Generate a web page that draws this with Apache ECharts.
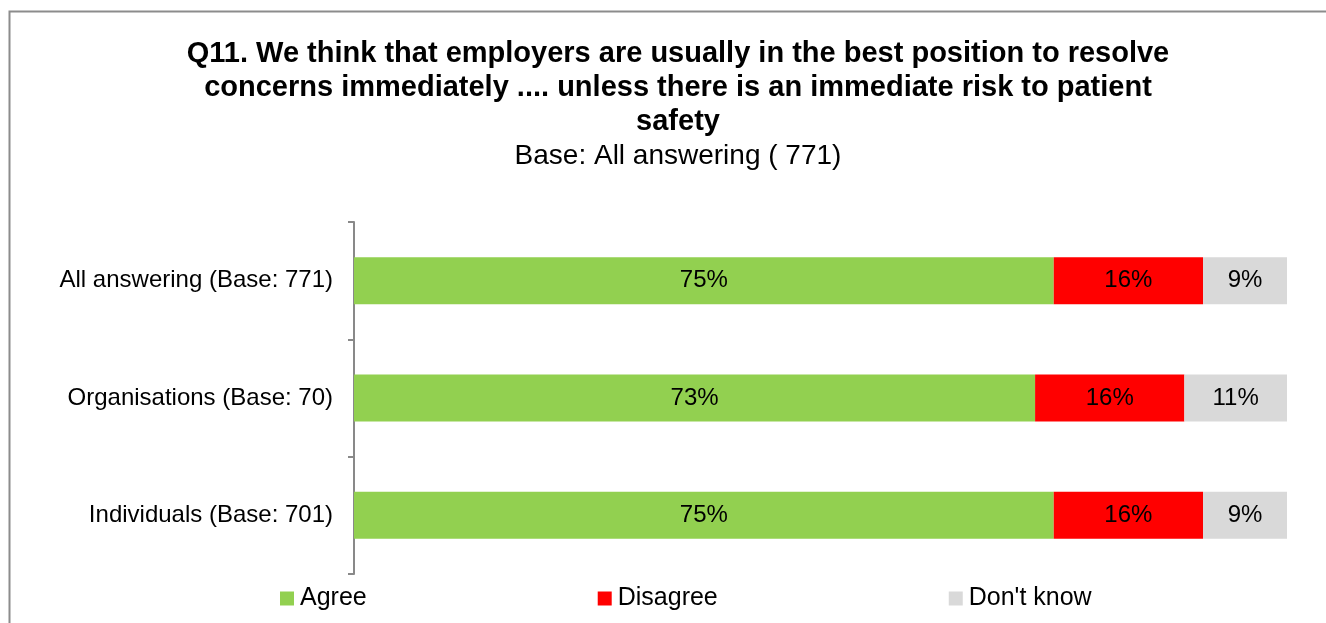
<!DOCTYPE html>
<html>
<head>
<meta charset="utf-8">
<title>Q11 responses</title>
<script src="https://cdn.jsdelivr.net/npm/echarts@6/dist/echarts.min.js"></script>
<style>
  html, body { margin: 0; padding: 0; background: #ffffff; }
  #chart { width: 1326px; height: 623px; }
</style>
</head>
<body>
<div id="chart"></div>
<script>
// Respondent groups (top to bottom)
const categories = [
  'All answering (Base: 771)',
  'Organisations (Base: 70)',
  'Individuals (Base: 701)'
];

// Share of each response, in percent
const agree = [75, 73, 75];
const disagree = [16, 16, 16];
const dontKnow = [9, 11, 9];

const seriesNames = ['Agree', 'Disagree', "Don't know"];
const seriesColors = ['#92D050', '#FF0000', '#D9D9D9'];

const titleText = 'Q11. We think that employers are usually in the best position to resolve\nconcerns immediately .... unless there is an immediate risk to patient\nsafety';
const subtitleText = 'Base: All answering ( 771)';

const FONT = '"Liberation Sans", Arial, sans-serif';

const chart = echarts.init(document.getElementById('chart'), null, { renderer: 'canvas' });

function barSeries(name, data, color) {
  return {
    name: name,
    type: 'bar',
    stack: 'total',
    data: data,
    barWidth: 47,
    itemStyle: { color: color },
    label: {
      show: true,
      position: 'inside',
      formatter: '{c}%',
      color: '#000000',
      fontFamily: FONT,
      fontSize: 24
    },
    emphasis: { disabled: true }
  };
}

chart.setOption({
  animation: false,
  backgroundColor: '#ffffff',
  textStyle: { fontFamily: FONT },
  title: [
    {
      text: titleText,
      left: 673,
      textAlign: 'center',
      top: 32,
      textStyle: {
        fontFamily: FONT,
        fontWeight: 'bold',
        fontSize: 29,
        lineHeight: 34,
        color: '#000000'
      }
    },
    {
      text: subtitleText,
      left: 673,
      textAlign: 'center',
      top: 136,
      textStyle: {
        fontFamily: FONT,
        fontWeight: 'normal',
        fontSize: 28,
        lineHeight: 30,
        color: '#000000'
      }
    }
  ],
  legend: {
    data: seriesNames,
    left: 275,
    top: 581,
    itemWidth: 14,
    itemHeight: 14,
    itemGap: 231,
    icon: 'rect',
    textStyle: { fontFamily: FONT, fontSize: 25, color: '#000000', padding: [0, 0, 0, 1] }
  },
  grid: {
    left: 354,
    right: 39,
    top: 222,
    bottom: 49,
    containLabel: false
  },
  xAxis: {
    type: 'value',
    min: 0,
    max: 100,
    show: false
  },
  yAxis: {
    type: 'category',
    data: categories,
    inverse: true,
    axisLine: { show: true, lineStyle: { color: '#898989', width: 2 } },
    axisTick: { show: true, length: 6, lineStyle: { color: '#898989', width: 2 } },
    axisLabel: {
      fontFamily: FONT,
      fontSize: 24,
      color: '#000000',
      margin: 21
    }
  },
  graphic: [
    {
      type: 'polyline',
      silent: true,
      shape: { points: [[9.5, 623], [9.5, 11.5], [1340, 11.5]] },
      style: { stroke: '#8c8c8c', lineWidth: 2, fill: null }
    }
  ],
  series: [
    barSeries(seriesNames[0], agree, seriesColors[0]),
    barSeries(seriesNames[1], disagree, seriesColors[1]),
    barSeries(seriesNames[2], dontKnow, seriesColors[2])
  ]
});
</script>
</body>
</html>
